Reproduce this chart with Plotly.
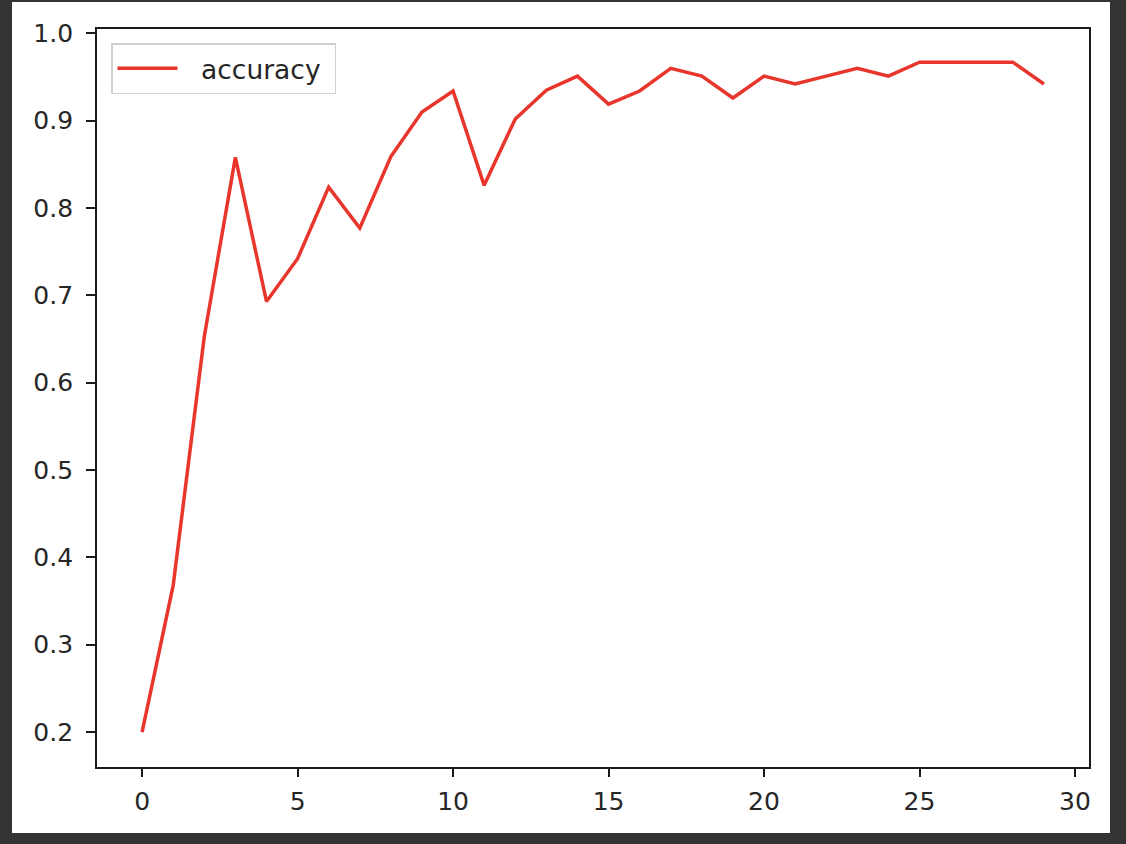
import plotly.graph_objects as go

epochs = list(range(30))
accuracy = [0.200, 0.368, 0.653, 0.858, 0.693, 0.742, 0.824, 0.777, 0.859, 0.910,
            0.934, 0.826, 0.902, 0.935, 0.951, 0.919, 0.934, 0.960, 0.951, 0.926,
            0.951, 0.942, 0.951, 0.960, 0.951, 0.967, 0.967, 0.967, 0.967, 0.942]
x_ticks = [0, 5, 10, 15, 20, 25, 30]
y_ticks = [0.2, 0.3, 0.4, 0.5, 0.6, 0.7, 0.8, 0.9, 1.0]
y_labels = ["0.2", "0.3", "0.4", "0.5", "0.6", "0.7", "0.8", "0.9", "1.0"]
series_name = "accuracy"

W, H = 1126, 844
L, R, T, B = 97, 1089, 29, 767
pw, ph = R - L, B - T

def px_x(p):
    return (p - L) / pw

def px_y(p):
    return (B - p) / ph

FONT = "DejaVu Sans"
FS = 25

fig = go.Figure()
fig.add_trace(go.Scatter(x=epochs, y=accuracy, mode="lines",
                         name="\u2002\u2009" + series_name + "\u00a0",
                         line=dict(color="#e8362c", width=3.5)))

fig.add_shape(type="rect", xref="paper", yref="paper", layer="below",
              x0=px_x(12), x1=px_x(1110), y0=px_y(833), y1=px_y(2),
              fillcolor="white", line=dict(width=0))

axis_common = dict(showgrid=False, zeroline=False, showline=True, mirror=True,
                   linecolor="#1a1a1a", linewidth=1.9, ticks="outside",
                   tickwidth=1.9, tickcolor="#1a1a1a",
                   tickfont=dict(family=FONT, size=FS, color="#262626"))

fig.update_layout(
    width=W, height=H,
    margin=dict(l=L, r=W - R, t=T, b=H - B, autoexpand=False),
    paper_bgcolor="#333333", plot_bgcolor="white",
    xaxis=dict(range=[-1.45, 30.45], tickvals=x_ticks, ticklen=8,
               ticklabelstandoff=3, **axis_common),
    yaxis=dict(range=[0.16, 1.005], tickvals=y_ticks, ticktext=y_labels,
               ticklen=9, ticklabelstandoff=8, **axis_common),
    showlegend=True,
    legend=dict(x=px_x(111), y=px_y(43), xanchor="left", yanchor="top",
                bgcolor="white", bordercolor="#d0d0d0", borderwidth=1.5,
                font=dict(family=FONT, size=26.5, color="#262626"),
                itemwidth=60),
)

fig.write_html("out.html",
               config={"displayModeBar": False},
               post_script="document.body.style.margin='0';"
                           "document.body.style.background='#333333';")
